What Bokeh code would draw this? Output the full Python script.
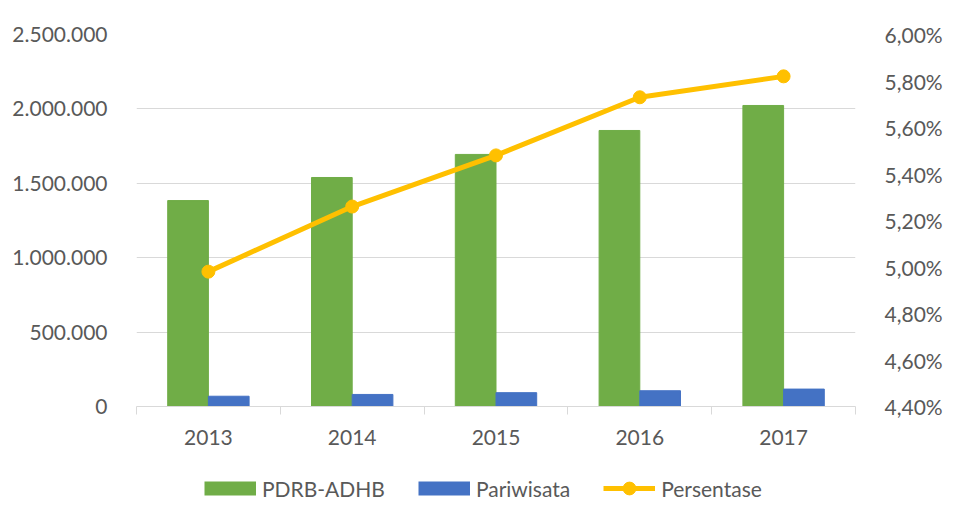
from bokeh.plotting import figure
from bokeh.layouts import column
from bokeh.models import Range1d, LinearAxis, FixedTicker, Legend, LegendItem, ColumnDataSource
from bokeh.embed import file_html
from bokeh.resources import INLINE

years = ["2013", "2014", "2015", "2016", "2017"]
pdrb = [1384000, 1539000, 1694000, 1855000, 2023000]
pariwisata = [69000, 81000, 93000, 106000, 117000]
persentase = [4.98, 5.26, 5.48, 5.73, 5.82]
left_ticks = [0, 500000, 1000000, 1500000, 2000000, 2500000]
right_ticks = [4.4, 4.6, 4.8, 5.0, 5.2, 5.4, 5.6, 5.8, 6.0]

FONT = "Lato"
FS = "21px"
TXT = "#595959"
GRID = "#d9d9d9"
GREEN = "#70ad47"
BLUE = "#4472c4"
YELLOW = "#ffc000"

n = len(years)
centers = [i + 0.5 for i in range(n)]
bounds = [float(i) for i in range(n + 1)]
bw = 0.283

src = ColumnDataSource(dict(
    x=centers,
    xg=[c - bw / 2 for c in centers],
    xb=[c + bw / 2 for c in centers],
    pdrb=pdrb, par=pariwisata, pct=persentase,
))

p = figure(width=945, height=466, output_backend="svg", toolbar_location=None,
           x_range=Range1d(0, n), y_range=Range1d(left_ticks[0], left_ticks[-1]),
           min_border_left=136, min_border_right=83, min_border_top=34,
           min_border_bottom=60)
p.extra_y_ranges = {"pct": Range1d(right_ticks[0], right_ticks[-1])}
p.outline_line_color = None
p.background_fill_color = "white"
p.border_fill_color = "white"

p.vbar(x="xg", top="pdrb", width=bw, source=src, color=GREEN)
p.vbar(x="xb", top="par", width=bw, source=src, color=BLUE)
p.line(x="x", y="pct", source=src, y_range_name="pct", line_width=5,
       color=YELLOW, line_join="round")
p.scatter(x="x", y="pct", source=src, y_range_name="pct", size=13, color=YELLOW)

# x axis
xa = p.xaxis[0]
xa.ticker = FixedTicker(ticks=centers, minor_ticks=bounds)
xa.major_label_overrides = {c: y for c, y in zip(centers, years)}
xa.major_tick_line_color = None
xa.major_tick_out = 0
xa.major_tick_in = 0
xa.minor_tick_out = 8
xa.minor_tick_in = 0
xa.minor_tick_line_color = GRID
xa.axis_line_color = GRID
xa.major_label_standoff = 15

# left axis
ya = p.yaxis[0]
ya.ticker = FixedTicker(ticks=left_ticks)
ya.major_label_overrides = {t: f"{t:,}".replace(",", ".") for t in left_ticks}
ya.axis_line_color = None
ya.major_tick_line_color = None
ya.minor_tick_line_color = None
ya.major_label_standoff = 23

ra = LinearAxis(y_range_name="pct", ticker=FixedTicker(ticks=right_ticks))
ra.major_label_overrides = {t: f"{t:.2f}".replace(".", ",") + "%" for t in right_ticks}
ra.axis_line_color = None
ra.major_tick_line_color = None
ra.minor_tick_line_color = None
ra.major_label_standoff = 23
p.add_layout(ra, "right")

for ax in (xa, ya, ra):
    ax.major_label_text_font = FONT
    ax.major_label_text_font_size = FS
    ax.major_label_text_color = TXT

p.xgrid.grid_line_color = None
p.ygrid.grid_line_color = GRID
p.ygrid.grid_line_width = 1
p.ygrid.ticker = FixedTicker(ticks=left_ticks)

# legend strip below the chart (keys sit outside its visible range)
lf = figure(width=945, height=44, output_backend="svg", toolbar_location=None,
            x_axis_type=None, y_axis_type=None, min_border=0,
            x_range=Range1d(0, 1), y_range=Range1d(0, 1))
lf.outline_line_color = None
lf.grid.grid_line_color = None
off = dict(x=[5, 6], y=[5, 5])
g_key = lf.line(line_width=14, line_color=GREEN, line_cap="butt", **off)
b_key = lf.line(line_width=14, line_color=BLUE, line_cap="butt", **off)
l_key = lf.line(line_width=5, line_color=YELLOW, **off)
s_key = lf.scatter(size=13, color=YELLOW, **off)

legend = Legend(items=[
    LegendItem(label="PDRB-ADHB", renderers=[g_key]),
    LegendItem(label="Pariwisata", renderers=[b_key]),
    LegendItem(label="Persentase", renderers=[l_key, s_key]),
], orientation="horizontal", location=(68, 6))
legend.glyph_width = 52
legend.glyph_height = 32
legend.label_height = 20
legend.label_standoff = 6
legend.spacing = 33
legend.label_text_font = FONT
legend.label_text_font_size = FS
legend.label_text_color = TXT
legend.border_line_color = None
legend.background_fill_alpha = 0
legend.padding = 0
legend.margin = 0
lf.add_layout(legend)

layout = column(p, lf, spacing=0)
open("out.html", "w").write(file_html(layout, INLINE))
